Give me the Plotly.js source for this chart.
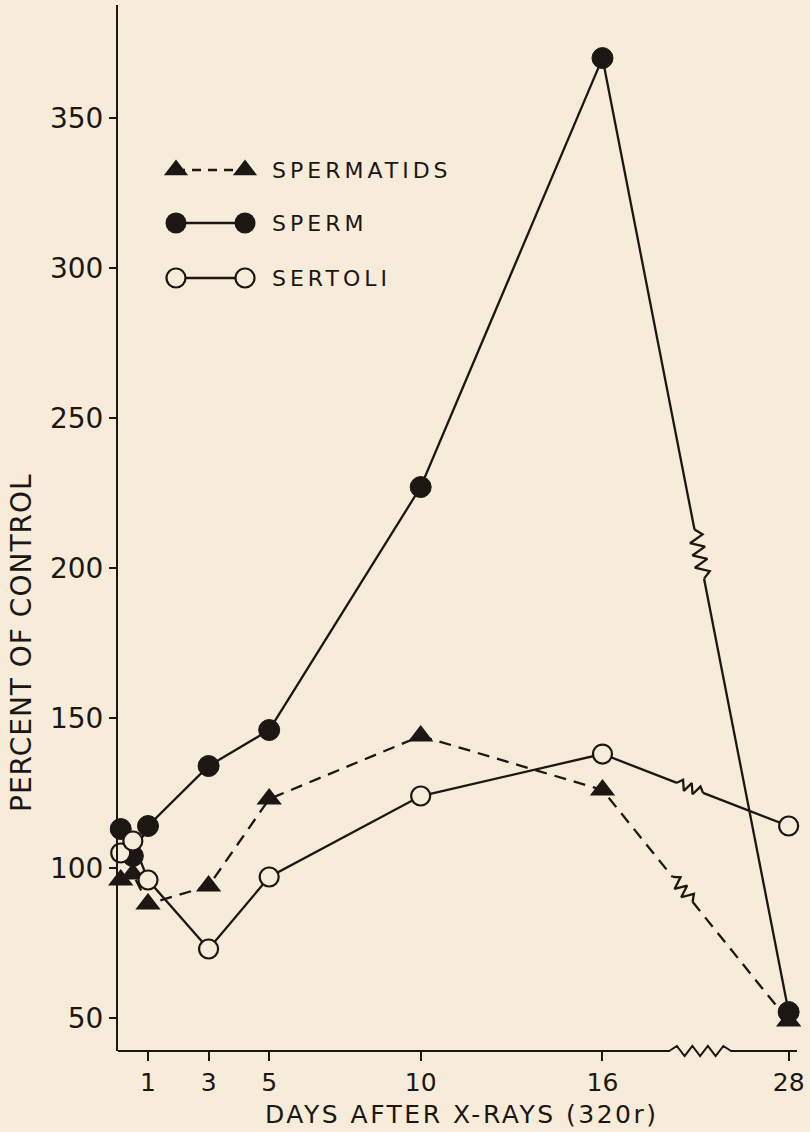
<!DOCTYPE html>
<html>
<head>
<meta charset="utf-8">
<script src="https://cdn.plot.ly/plotly-3.0.1.min.js"></script>
<style>
  html, body { margin: 0; padding: 0; background: #f7ecd9; }
  #chart { width: 810px; height: 1132px; }
</style>
</head>
<body>
<div id="chart"></div>
<script>
// ---- data ----
const days = [0.1, 0.5, 1, 3, 5, 10, 16, 28];
const sperm = [113, 104, 114, 134, 146, 227, 370, 52];
const spermatids = [96, 98, 88, 94, 123, 144, 126, 49];
const sertoli = [105, 109, 96, 73, 97, 124, 138, 114];
const tickDays = [1, 3, 5, 10, 16, 28];
const tickLabels = ['1', '3', '5', '10', '16', '28'];
const yTicks = [50, 100, 150, 200, 250, 300, 350];
const seriesNames = ['SPERMATIDS', 'SPERM', 'SERTOLI'];

// ---- styling / geometry ----
const BG = '#f7ecd9';
const INK = '#1c1712';
const FONT = 'DejaVu Sans';
const LW = 2.3;
const W = 810, H = 1132;
const M = {l: 118, r: 13, t: 5, b: 81};
const XR = [0.01, 22.42];
const YR = [39, 387.7];
const plotW = W - M.l - M.r, plotH = H - M.t - M.b;
const kx = plotW / (XR[1] - XR[0]);
const ky = plotH / (YR[1] - YR[0]);

// broken x axis: days after 16 are compressed
const BREAK_AT = 16, BREAK_SCALE = 0.512;
function pos(d) { return d <= BREAK_AT ? d : BREAK_AT + (d - BREAK_AT) * BREAK_SCALE; }
const xs = days.map(pos);

// zigzag marking a break on the last segment of a series
function breakSegment(vals, t, lenPx, ampPx, n) {
  const i0 = days.indexOf(BREAK_AT), i1 = days.length - 1;
  const p0 = [xs[i0] * kx, vals[i0] * ky], p1 = [xs[i1] * kx, vals[i1] * ky];
  const dx = p1[0] - p0[0], dy = p1[1] - p0[1];
  const L = Math.hypot(dx, dy);
  const u = [dx / L, dy / L], nv = [-u[1], u[0]];
  const c = [p0[0] + dx * t, p0[1] + dy * t];
  const zx = [], zy = [];
  for (let k = 0; k <= n; k++) {
    const s = -lenPx / 2 + k * lenPx / n;
    const off = (k === 0 || k === n) ? 0 : (k % 2 ? ampPx : -ampPx);
    zx.push((c[0] + u[0] * s + nv[0] * off) / kx);
    zy.push((c[1] + u[1] * s + nv[1] * off) / ky);
  }
  const lx = xs.slice(0, i0 + 1), ly = vals.slice(0, i0 + 1);
  lx.push(zx[0], null, zx[n], xs[i1]);
  ly.push(zy[0], null, zy[n], vals[i1]);
  return {lx, ly, zx, zy};
}

const spt = breakSegment(spermatids, 0.43, 32, 6, 6);
const spm = breakSegment(sperm, 0.52, 50, 7, 8);
const ser = breakSegment(sertoli, 0.47, 28, 5, 6);

const traces = [];
traces.push({x: spt.lx, y: spt.ly, mode: 'lines', line: {color: INK, width: LW, dash: '12px,8px'}, hoverinfo: 'skip'});
traces.push({x: spt.zx, y: spt.zy, mode: 'lines', line: {color: INK, width: LW}, hoverinfo: 'skip'});
traces.push({x: spm.lx, y: spm.ly, mode: 'lines', line: {color: INK, width: LW}, hoverinfo: 'skip'});
traces.push({x: spm.zx, y: spm.zy, mode: 'lines', line: {color: INK, width: LW}, hoverinfo: 'skip'});
traces.push({x: ser.lx, y: ser.ly, mode: 'lines', line: {color: INK, width: LW}, hoverinfo: 'skip'});
traces.push({x: ser.zx, y: ser.zy, mode: 'lines', line: {color: INK, width: LW}, hoverinfo: 'skip'});
traces.push({x: xs, y: spermatids, mode: 'markers', name: seriesNames[0], cliponaxis: false,
  marker: {symbol: 'triangle-up', size: 22, color: INK, line: {width: 0}}});
traces.push({x: xs, y: sperm, mode: 'markers', name: seriesNames[1], cliponaxis: false,
  marker: {symbol: 'circle', size: 21, color: INK, line: {width: 1, color: INK}}});
traces.push({x: xs, y: sertoli, mode: 'markers', name: seriesNames[2], cliponaxis: false,
  marker: {symbol: 'circle', size: 19, color: BG, line: {width: 2.2, color: INK}}});

// legend glyphs on a hidden pixel-like overlay axis pair
const legX = [176, 245];
const legY = [170, 223, 278];
traces.push({x: legX, y: [legY[0], legY[0]], xaxis: 'x2', yaxis: 'y2', mode: 'lines+markers', hoverinfo: 'skip',
  line: {color: INK, width: LW, dash: '9px,7px'}, marker: {symbol: 'triangle-up', size: 21, color: INK}});
traces.push({x: legX, y: [legY[1], legY[1]], xaxis: 'x2', yaxis: 'y2', mode: 'lines+markers', hoverinfo: 'skip',
  line: {color: INK, width: LW}, marker: {symbol: 'circle', size: 21, color: INK}});
traces.push({x: legX, y: [legY[2], legY[2]], xaxis: 'x2', yaxis: 'y2', mode: 'lines+markers', hoverinfo: 'skip',
  line: {color: INK, width: LW}, marker: {symbol: 'circle', size: 19, color: BG, line: {width: 2.2, color: INK}}});

// x-axis line with a break zigzag
const brkCenter = (pos(BREAK_AT) + pos(days[days.length - 1])) / 2 + 0.15;
const bcPaper = (brkCenter - XR[0]) / (XR[1] - XR[0]);
const bHalf = 31 / plotW, bAmp = 5 / plotH, bN = 8;
let axPath = 'M 0,0 L ' + (bcPaper - bHalf) + ',0';
for (let k = 1; k <= bN; k++) {
  const xx = bcPaper - bHalf + k * 2 * bHalf / bN;
  const yy = (k === bN) ? 0 : (k % 2 ? bAmp : -bAmp);
  axPath += ' L ' + xx + ',' + yy;
}
axPath += ' L 1,0';

const annotations = [
  {text: '<span style="letter-spacing:1px">PERCENT OF CONTROL</span>', xref: 'paper', yref: 'paper',
   x: (21 - M.l) / plotW, y: (H - M.b - 643) / plotH, textangle: -90, showarrow: false,
   xanchor: 'center', yanchor: 'middle', font: {family: FONT, size: 28, color: INK}},
  {text: '<span style="letter-spacing:2.5px">DAYS AFTER X-RAYS (320r)</span>', xref: 'paper', yref: 'paper',
   x: (462 - M.l) / plotW, y: (H - M.b - 1114) / plotH, showarrow: false,
   xanchor: 'center', yanchor: 'middle', font: {family: FONT, size: 25, color: INK}}
];
seriesNames.forEach((nm, i) => {
  annotations.push({text: '<span style="letter-spacing:4px">' + nm + '</span>', xref: 'x2', yref: 'y2',
    x: 270, y: legY[i], showarrow: false, xanchor: 'left', yanchor: 'middle',
    font: {family: FONT, size: 22, color: INK}});
});

const layout = {
  width: W, height: H,
  margin: M,
  paper_bgcolor: BG, plot_bgcolor: BG,
  showlegend: false,
  font: {family: FONT, color: INK},
  xaxis: {
    range: XR, tickmode: 'array', tickvals: tickDays.map(pos), ticktext: tickLabels,
    ticks: 'outside', ticklen: 9, tickwidth: 2, tickcolor: INK,
    showline: false, showgrid: false, zeroline: false,
    tickfont: {family: FONT, size: 25, color: INK}
  },
  yaxis: {
    range: YR, tickmode: 'array', tickvals: yTicks,
    ticks: 'outside', ticklen: 7, tickwidth: 2, tickcolor: INK,
    showline: true, linewidth: 2, linecolor: INK,
    showgrid: false, zeroline: false,
    tickfont: {family: FONT, size: 28, color: INK}
  },
  xaxis2: {overlaying: 'x', anchor: 'y2', range: [M.l, W - M.r], visible: false},
  yaxis2: {overlaying: 'y', anchor: 'x2', range: [H - M.b, M.t], visible: false},
  shapes: [
    {type: 'path', xref: 'paper', yref: 'paper', path: axPath, line: {color: INK, width: 2}}
  ],
  annotations: annotations
};

Plotly.newPlot('chart', traces, layout, {displayModeBar: false, staticPlot: true});
</script>
</body>
</html>
